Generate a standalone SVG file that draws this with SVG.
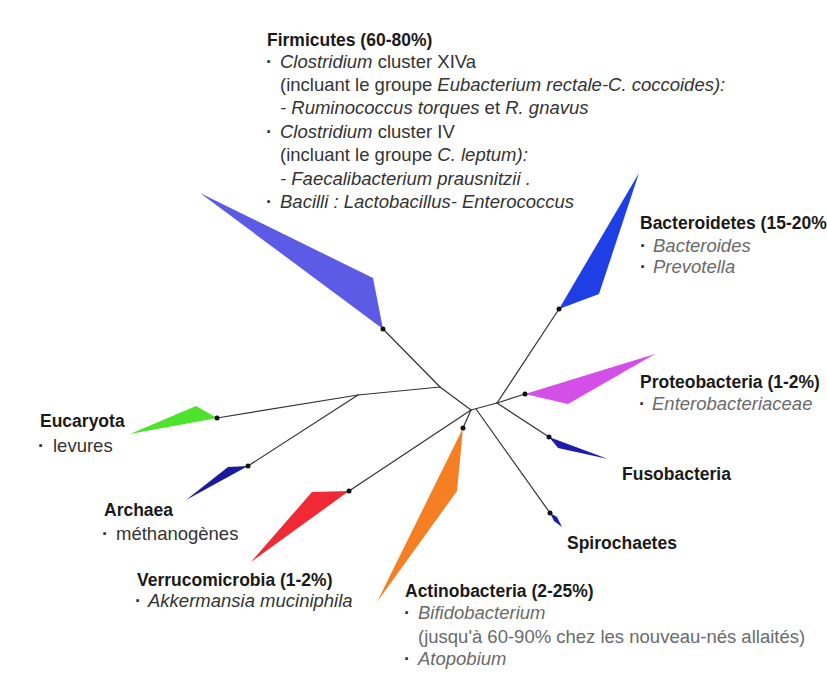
<svg xmlns="http://www.w3.org/2000/svg" width="827" height="674" viewBox="0 0 827 674">
<style>
.t{font-family:"Liberation Sans",Arial,sans-serif;font-size:17.5px;font-weight:bold;fill:#1a1a1a}
.b{font-family:"Liberation Sans",Arial,sans-serif;font-size:18.5px;fill:#333}
.i{font-style:italic}
.g{fill:#6a6a6a}
.bu{font-weight:bold}
.edge{stroke:#333;stroke-width:1.2;fill:none;stroke-linecap:round}
.dot{fill:#111}
</style>
<rect width="827" height="674" fill="#fff"/>
<g id="connectors">
<line class="edge" x1="471" y1="410" x2="440" y2="387"/>
<line class="edge" x1="440" y1="387" x2="383" y2="329"/>
<line class="edge" x1="440" y1="387" x2="358" y2="395"/>
<line class="edge" x1="358" y1="395" x2="217" y2="418"/>
<line class="edge" x1="358" y1="395" x2="248" y2="466"/>
<line class="edge" x1="471" y1="410" x2="349" y2="491"/>
<line class="edge" x1="471" y1="410" x2="463" y2="428"/>
<line class="edge" x1="476" y1="409" x2="550" y2="513"/>
<line class="edge" x1="471" y1="410" x2="497" y2="403"/>
<line class="edge" x1="497" y1="403" x2="559" y2="309"/>
<line class="edge" x1="497" y1="403" x2="525" y2="394"/>
<line class="edge" x1="497" y1="403" x2="549" y2="437"/>
</g>
<g id="firmicutes">
<polygon points="200,193 373,278 383,329" fill="#5b5be6"/>
<circle class="dot" cx="383" cy="329" r="2.5"/>
<text class="t" x="267" y="46">Firmicutes (60-80%)</text>
<text class="b" y="68"><tspan x="266" class="bu">·</tspan><tspan x="280" class="i">Clostridium</tspan> cluster XIVa</text>
<text class="b" x="280" y="91">(incluant le groupe <tspan class="i">Eubacterium rectale-C. coccoides):</tspan></text>
<text class="b" x="280" y="114"><tspan class="i">- Ruminococcus torques</tspan> et <tspan class="i">R. gnavus</tspan></text>
<text class="b" y="138"><tspan x="266" class="bu">·</tspan><tspan x="280" class="i">Clostridium</tspan> cluster IV</text>
<text class="b" x="280" y="161">(incluant le groupe <tspan class="i">C. leptum):</tspan></text>
<text class="b i" x="280" y="185">- Faecalibacterium prausnitzii .</text>
<text class="b" y="208"><tspan x="266" class="bu">·</tspan><tspan x="280" class="i">Bacilli : Lactobacillus- Enterococcus</tspan></text>
</g>
<g id="bacteroidetes">
<polygon points="639,173 599,294 559,309" fill="#1f3fe6"/>
<circle class="dot" cx="559" cy="309" r="2.5"/>
<text class="t" x="640" y="229">Bacteroidetes (15-20%</text>
<text class="b" y="252"><tspan x="640" class="bu">·</tspan><tspan x="653" class="i g">Bacteroides</tspan></text>
<text class="b" y="273"><tspan x="640" class="bu">·</tspan><tspan x="653" class="i g">Prevotella</tspan></text>
</g>
<g id="proteobacteria">
<polygon points="525,394 655,354 568,404" fill="#d44ee8"/>
<circle class="dot" cx="525" cy="394" r="2.5"/>
<text class="t" x="640" y="388">Proteobacteria (1-2%)</text>
<text class="b" y="410"><tspan x="639" class="bu">·</tspan><tspan x="652" class="i g">Enterobacteriaceae</tspan></text>
</g>
<g id="fusobacteria">
<polygon points="549,437 608,459 558,448" fill="#1c1cb0"/>
<circle class="dot" cx="549" cy="437" r="2.5"/>
<text class="t" x="622" y="480">Fusobacteria</text>
</g>
<g id="spirochaetes">
<polygon points="550,513 557,517 562,527 554,521" fill="#1c1cb0"/>
<circle class="dot" cx="550" cy="513" r="2.5"/>
<text class="t" x="567" y="549">Spirochaetes</text>
</g>
<g id="actinobacteria">
<polygon points="463,428 457,491 377,602" fill="#f57f22"/>
<circle class="dot" cx="463" cy="428" r="2.5"/>
<text class="t" x="405" y="597">Actinobacteria (2-25%)</text>
<text class="b" y="619"><tspan x="404" class="bu">·</tspan><tspan x="418" class="i g">Bifidobacterium</tspan></text>
<text class="b g" x="418" y="643">(jusqu'à 60-90% chez les nouveau-nés allaités)</text>
<text class="b" y="665"><tspan x="404" class="bu">·</tspan><tspan x="418" class="i g">Atopobium</tspan></text>
</g>
<g id="verrucomicrobia">
<polygon points="349,491 312,492 251,562" fill="#f02a35"/>
<circle class="dot" cx="349" cy="491" r="2.5"/>
<text class="t" x="137" y="586">Verrucomicrobia (1-2%)</text>
<text class="b" y="607"><tspan x="135" class="bu">·</tspan><tspan x="148" class="i">Akkermansia muciniphila</tspan></text>
</g>
<g id="archaea">
<polygon points="248,466 228,467 186,500" fill="#1a1a9e"/>
<circle class="dot" cx="248" cy="466" r="2.5"/>
<text class="t" x="104" y="516">Archaea</text>
<text class="b" y="540"><tspan x="102" class="bu">·</tspan><tspan x="116">méthanogènes</tspan></text>
</g>
<g id="eucaryota">
<polygon points="217,418 196,406 130,434" fill="#4ee22c"/>
<circle class="dot" cx="217" cy="418" r="2.5"/>
<text class="t" x="40" y="427">Eucaryota</text>
<text class="b" y="452"><tspan x="38" class="bu">·</tspan><tspan x="53">levures</tspan></text>
</g>
</svg>
